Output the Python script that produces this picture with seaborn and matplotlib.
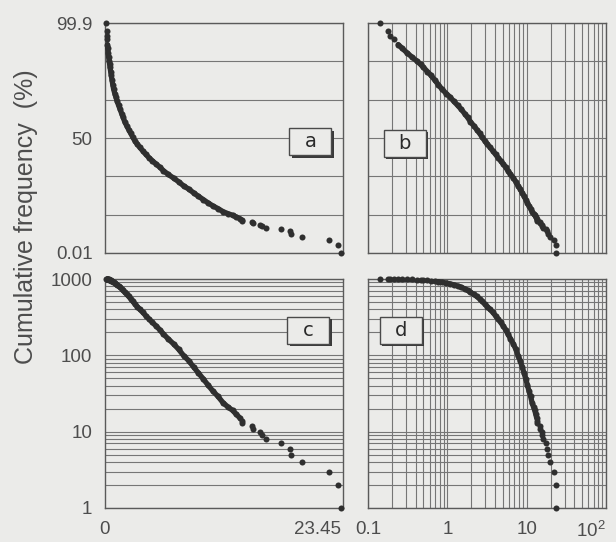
import math
import numpy as np
import pandas as pd
import matplotlib
matplotlib.use("Agg")
import matplotlib.pyplot as plt
import seaborn as sns
from matplotlib.patches import Rectangle
import matplotlib.transforms as mtransforms

# ---------------- data ----------------
# number of values >= x (rank from the top) and the value x
rank = [1000, 999, 998, 997, 995, 993, 990, 986, 982, 977,
        972, 964, 955, 940, 925, 905, 885, 865, 840, 810,
        780, 745, 710, 671, 630, 590, 550, 510, 472, 435,
        400, 365, 330, 300, 270, 240, 215, 190, 165, 141,
        120, 99, 85, 70, 59, 49, 41, 34, 29, 24,
        21, 19, 17, 15, 14, 13, 12, 11, 10, 9,
        8, 7, 6, 5, 4, 3, 2, 1]
value = [0.14, 0.18, 0.19, 0.21, 0.24, 0.27, 0.31, 0.36, 0.41, 0.46,
         0.50, 0.56, 0.62, 0.70, 0.77, 0.86, 0.97, 1.08, 1.20, 1.35,
         1.50, 1.65, 1.80, 1.95, 2.15, 2.35, 2.55, 2.75, 2.95, 3.20,
         3.45, 3.75, 4.05, 4.35, 4.70, 5.10, 5.45, 5.80, 6.25, 6.80,
         7.30, 7.80, 8.30, 8.80, 9.25, 9.75, 10.2, 10.7, 11.2, 11.7,
         12.2, 12.65, 13.0, 13.4, 13.55, 13.6, 14.6, 14.7, 15.4, 15.55,
         16.0, 17.5, 18.3, 18.45, 19.5, 22.2, 23.1, 23.45]
n_total = 1000

panel_letters = ["a", "b", "c", "d"]
pct_tick_labels = ["0.01", "", "", "50", "", "", "99.9"]
count_ticks = [1, 10, 100, 1000]
count_tick_labels = ["1", "10", "100", "1000"]
lin_x_ticks = [0, 23.45]
lin_x_tick_labels = ["0", "23.45"]
log_x_ticks = [0.1, 1, 10, 100]
log_x_tick_labels = ["0.1", "1", "10", "$10^2$"]
y_label = "Cumulative frequency  (%)"

# ---------------- styling ----------------
BG = "#ebebe9"
GRID = "#767676"
SPINE = "#5a5a5a"
PT = "#2f2f2f"
TXT = "#4d4d4d"
FONT = ["Liberation Sans", "DejaVu Sans"]

sns.set_theme(style="white")
plt.rcParams["font.family"] = FONT
plt.rcParams["mathtext.fontset"] = "custom"
plt.rcParams["mathtext.rm"] = "Liberation Sans"


# normal probability scale helpers
_a = [-3.969683028665376e+01, 2.209460984245205e+02, -2.759285104469687e+02,
      1.383577518672690e+02, -3.066479806614716e+01, 2.506628277459239e+00]
_b = [-5.447609879822406e+01, 1.615858368580409e+02, -1.556989798598866e+02,
      6.680131188771972e+01, -1.328068155288572e+01]
_c = [-7.784894002430293e-03, -3.223964580411365e-01, -2.400758277161838e+00,
      -2.549671010115819e+00, 4.374664141464968e+00, 2.938163982698783e+00]
_d = [7.784695709041462e-03, 3.224671290700398e-01, 2.445134137142996e+00,
      3.754408661907416e+00]


def norm_ppf(p):
    p = np.clip(np.asarray(p, dtype=float), 1e-12, 1 - 1e-12)
    out = np.empty_like(p)
    plow = 0.02425
    lo = p < plow
    hi = p > 1 - plow
    mid = ~(lo | hi)
    q = np.sqrt(-2 * np.log(p[lo]))
    out[lo] = ((((((_c[0]*q+_c[1])*q+_c[2])*q+_c[3])*q+_c[4])*q+_c[5]) /
               ((((_d[0]*q+_d[1])*q+_d[2])*q+_d[3])*q+1))
    q = np.sqrt(-2 * np.log(1 - p[hi]))
    out[hi] = -((((((_c[0]*q+_c[1])*q+_c[2])*q+_c[3])*q+_c[4])*q+_c[5]) /
                ((((_d[0]*q+_d[1])*q+_d[2])*q+_d[3])*q+1))
    q = p[mid] - 0.5
    r = q * q
    out[mid] = ((((((_a[0]*r+_a[1])*r+_a[2])*r+_a[3])*r+_a[4])*r+_a[5])*q /
                (((((_b[0]*r+_b[1])*r+_b[2])*r+_b[3])*r+_b[4])*r+1))
    return out


_erf = np.vectorize(math.erf)


def norm_cdf(z):
    z = np.asarray(z, dtype=float)
    return 0.5 * (1 + _erf(z / math.sqrt(2)))


def pct_fwd(v):
    return norm_ppf(np.asarray(v, dtype=float) / 100.0)


def pct_inv(z):
    return norm_cdf(z) * 100.0


df = pd.DataFrame({"value": value, "count": rank})
df["pct"] = df["count"] / (n_total + 1) * 100.0
dense = df[(df["count"] <= 995) & (df["count"] >= 15)]

fig = plt.figure(figsize=(6.16, 5.42), dpi=100, facecolor=BG)
W, H = 616.0, 542.0


def place(l, t, r, b):
    return [l / W, 1 - b / H, (r - l) / W, (b - t) / H]


ax_a = fig.add_axes(place(105, 23, 343, 253))
ax_b = fig.add_axes(place(368, 23, 606, 253))
ax_c = fig.add_axes(place(105, 279, 343, 508))
ax_d = fig.add_axes(place(368, 279, 606, 508))

z_hi = float(norm_ppf(n_total / (n_total + 1)))
z_grid = np.linspace(-z_hi, z_hi, 7)
pct_grid = pct_inv(z_grid)
pct_lo, pct_hi = 100.0 / (n_total + 1), 100.0 * n_total / (n_total + 1)

minor_log = [m * 10.0 ** e for e in range(-1, 2) for m in range(2, 10)]
minor_cnt = [m * 10.0 ** e for e in range(0, 3) for m in range(2, 10)]

panels = [(ax_a, "pct", False), (ax_b, "pct", True),
          (ax_c, "count", False), (ax_d, "count", True)]

for ax, ycol, logx in panels:
    ax.set_facecolor(BG)
    if logx:
        ax.set_xscale("log")
    if ycol == "pct":
        ax.set_yscale("function", functions=(pct_fwd, pct_inv))
    else:
        ax.set_yscale("log")
    sns.lineplot(data=dense, x="value", y=ycol, ax=ax, sort=False,
                 estimator=None, color=PT, linewidth=3.8, zorder=3,
                 solid_capstyle="round")
    sns.scatterplot(data=df, x="value", y=ycol, ax=ax, s=19, color=PT,
                    linewidth=0, zorder=4, clip_on=False)
    ax.set_xlabel("")
    ax.set_ylabel("")
    for s in ax.spines.values():
        s.set_visible(True)
        s.set_color(SPINE)
        s.set_linewidth(1.0)
    ax.tick_params(which="both", length=0, labelsize=13.5,
                   labelcolor=TXT, pad=9)
    if logx:
        ax.set_xticks(log_x_ticks)
        ax.set_xticks(minor_log, minor=True)
        ax.set_xlim(0.1, 100)
        ax.xaxis.grid(True, which="both", color=GRID, linewidth=0.8)
    else:
        ax.set_xticks(lin_x_ticks)
        ax.set_xlim(0, 23.6)
    if ycol == "pct":
        ax.set_yticks(pct_grid)
        ax.set_yticks([], minor=True)
        ax.set_ylim(pct_lo, pct_hi)
        ax.yaxis.grid(True, which="major", color=GRID, linewidth=0.8)
    else:
        ax.set_yticks(count_ticks)
        ax.set_yticks(minor_cnt, minor=True)
        ax.set_ylim(1, 1000)
        ax.yaxis.grid(True, which="both", color=GRID, linewidth=0.8)
    ax.set_axisbelow(True)

# tick labels
ax_a.set_yticklabels(pct_tick_labels)
ax_a.set_xticklabels([])
ax_b.set_yticklabels([])
ax_b.set_xticklabels([])
ax_b.set_xticklabels([], minor=True)
ax_c.set_yticklabels(count_tick_labels)
ax_c.set_yticklabels([], minor=True)
ax_c.set_xticklabels(lin_x_tick_labels)
ax_c.get_xticklabels()[1].set_horizontalalignment("right")
ax_d.set_yticklabels([])
ax_d.set_yticklabels([], minor=True)
ax_d.set_xticklabels(log_x_tick_labels)
ax_d.set_xticklabels([], minor=True)
ax_d.get_xticklabels()[-1].set_horizontalalignment("right")

# panel letter boxes
box_pos = {"a": (0.863, 0.483), "b": (0.154, 0.478),
           "c": (0.855, 0.775), "d": (0.139, 0.775)}
box_axes = {"a": ax_a, "b": ax_b, "c": ax_c, "d": ax_d}
for letter in panel_letters:
    ax = box_axes[letter]
    cx, cy = box_pos[letter]
    bw, bh = 42 / 238.0, 27 / 230.0
    shadow_tr = mtransforms.offset_copy(ax.transAxes, fig=fig, x=2.2, y=-2.2,
                                        units="dots")
    ax.add_patch(Rectangle((cx - bw / 2, cy - bh / 2), bw, bh,
                           transform=shadow_tr, facecolor="#3a3a3a",
                           edgecolor="none", zorder=6, clip_on=False))
    ax.add_patch(Rectangle((cx - bw / 2, cy - bh / 2), bw, bh,
                           transform=ax.transAxes, facecolor=BG,
                           edgecolor="#4a4a4a", linewidth=1.0, zorder=7,
                           clip_on=False))
    ax.text(cx, cy, letter, transform=ax.transAxes, ha="center",
            va="center", fontsize=14, color="#2a2a2a", zorder=8,
            family=["Liberation Sans Narrow", "DejaVu Sans Condensed",
                    "DejaVu Sans"])

fig.text(0.042, 0.601, y_label, rotation=90, ha="center", va="center",
         fontsize=18, color=TXT)

fig.savefig("out.png", dpi=100, facecolor=BG)
